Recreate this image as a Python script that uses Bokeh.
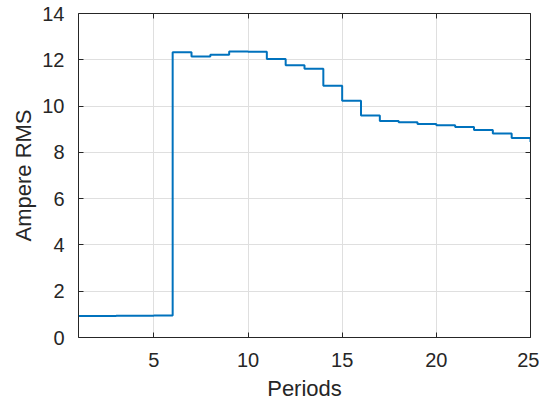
from bokeh.plotting import figure
from bokeh.models import Range1d, LinearAxis, FixedTicker, CustomJSTickFormatter
from bokeh.embed import file_html
from bokeh.resources import INLINE

periods = list(range(1, 26))
ampere_rms = [0.93, 0.93, 0.94, 0.94, 0.95,
              12.33, 12.14, 12.22, 12.36, 12.35,
              12.03, 11.76, 11.61, 10.88, 10.23,
              9.59, 9.36, 9.30, 9.23, 9.17,
              9.10, 8.97, 8.82, 8.62, 8.45]
x_ticks = [5, 10, 15, 20, 25]
y_ticks = [0, 2, 4, 6, 8, 10, 12, 14]

FONT = "Liberation Sans"
AX = "#262626"

p = figure(frame_width=452, frame_height=324, output_backend="svg", toolbar_location=None,
           x_range=Range1d(1, 25), y_range=Range1d(0, 14),
           min_border_left=78, min_border_right=9, min_border_top=13, min_border_bottom=40)
p.outline_line_color = None

p.step(periods, ampere_rms, mode="after", line_color="#0072BD", line_width=2)

def style_axis(ax, ticks, label=True):
    ax.ticker = FixedTicker(ticks=ticks)
    ax.axis_line_color = AX
    ax.axis_line_width = 1
    ax.major_tick_line_color = AX
    ax.major_tick_in = 5
    ax.major_tick_out = 0
    ax.minor_tick_line_color = None
    ax.major_label_text_font = FONT
    ax.major_label_text_color = AX
    ax.major_label_text_font_size = "20px"
    ax.axis_label_text_font = FONT
    ax.axis_label_text_font_style = "normal"
    ax.axis_label_text_color = AX
    ax.axis_label_text_font_size = "22px"
    if not label:
        ax.formatter = CustomJSTickFormatter(code="return ''")
        ax.major_label_standoff = 0

style_axis(p.xaxis[0], x_ticks)
style_axis(p.yaxis[0], y_ticks)
p.xaxis[0].axis_label = "Periods"
p.yaxis[0].axis_label = "Ampere RMS"
p.xaxis[0].major_label_standoff = 15
p.xaxis[0].axis_label_standoff = 6
p.yaxis[0].major_label_standoff = 14
p.yaxis[0].axis_label_standoff = 3

top = LinearAxis()
style_axis(top, x_ticks, label=False)
right = LinearAxis()
style_axis(right, y_ticks, label=False)
p.add_layout(top, "above")
p.add_layout(right, "right")

p.xgrid.ticker = FixedTicker(ticks=x_ticks)
p.ygrid.ticker = FixedTicker(ticks=y_ticks)
for g in (p.xgrid[0], p.ygrid[0]):
    g.grid_line_color = "#dfdfdf"
    g.grid_line_width = 1

open("out.html", "w").write(file_html(p, INLINE))
